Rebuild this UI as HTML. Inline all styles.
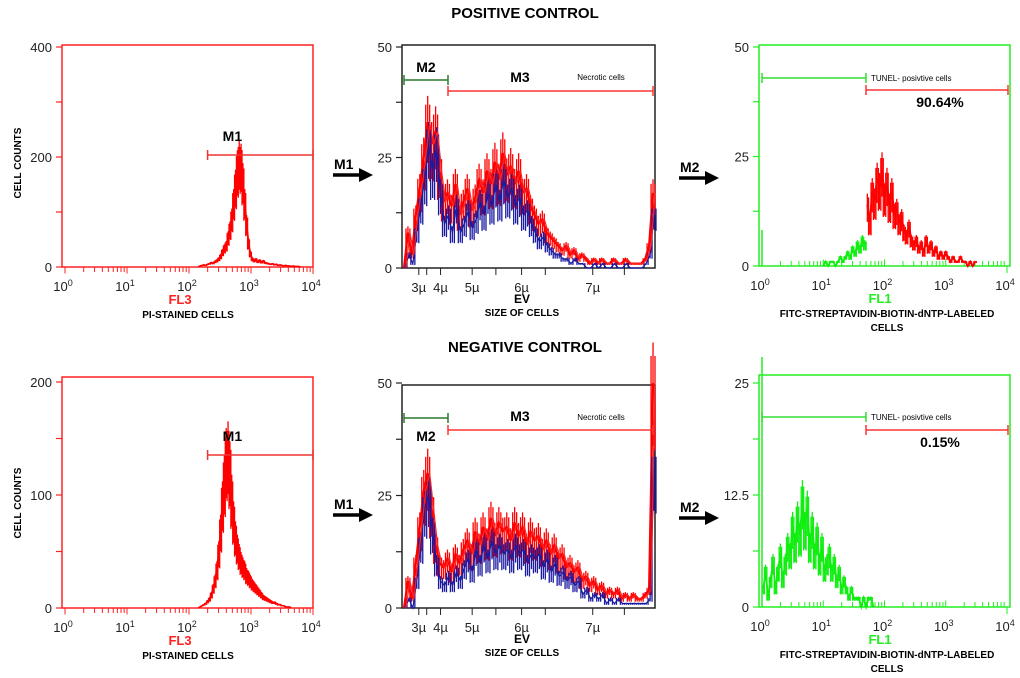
<!DOCTYPE html>
<html><head><meta charset="utf-8">
<style>
html,body{margin:0;padding:0;background:#fff;}
svg{display:block;font-family:"Liberation Sans",Arial,sans-serif;}
</style></head>
<body>
<svg id="fig" width="1020" height="678" viewBox="0 0 1020 678">
<text x="525" y="18" text-anchor="middle" font-size="15" font-weight="bold">POSITIVE CONTROL</text>
<text x="525" y="352" text-anchor="middle" font-size="15" font-weight="bold">NEGATIVE CONTROL</text>
</svg>
<script>
// ---- data ----
// Panel 1 (FL3, log10 bins, start 2.15 step 0.03)
const pcFl3Counts=[0,2,3,4,3,5,6,8,7,10,12,15,20,28,35,40,55,70,90,120,150,180,195,190,160,120,80,45,25,15,12,14,10,12,9,11,8,7,6,5,6,4,5,3,4,3,2,3,2,2,1,2,1,1,1,0];
const ncFl3Counts=[0,1,2,3,4,6,8,12,18,25,35,50,70,95,115,135,140,125,100,80,65,55,48,42,38,35,30,28,25,22,20,18,16,14,12,10,9,8,7,6,5,5,4,3,3,2,2,1,1,1,0];
// Panel 2 (size channel, bins of 4 channels)
const pcSizeRed=[0,8,3,12,18,25,33,28,31,22,15,17,14,19,12,15,18,13,16,20,17,22,19,24,20,26,21,23,19,22,17,18,14,12,10,11,8,7,6,5,4,5,3,4,2,3,2,1,2,1,2,1,1,2,1,1,2,1,1,1,1,2,5,17];
const pcSizeBlue=[0,3,1,8,14,20,28,22,27,17,10,12,8,14,8,10,13,9,11,15,12,17,14,19,15,20,16,18,14,16,12,13,10,8,6,7,5,4,3,3,2,2,1,2,1,1,0,0,1,0,1,0,0,1,0,0,1,0,0,0,0,1,3,12];
const ncSizeRed=[0,6,2,10,18,26,30,22,14,10,9,11,8,12,10,13,15,12,17,14,18,15,20,16,19,17,18,15,19,16,18,14,17,15,16,13,15,12,14,11,12,9,10,8,9,6,7,5,6,4,5,3,4,3,4,2,3,2,3,2,2,3,4,50];
const ncSizeBlue=[0,2,0,6,14,22,25,17,10,6,5,7,5,8,6,9,11,8,13,10,14,11,15,12,14,12,13,11,14,12,13,10,12,11,12,9,11,8,10,7,8,6,7,5,6,3,4,2,3,2,3,1,2,1,2,1,1,1,1,1,1,1,2,30];
const sizeTickLabels=["3µ","4µ","5µ","6µ","7µ"];
const sizeTickChannels=[17,39,71,121,193];
// Panel 3 (FL1, log bins step 0.04)
const pcFl1Green=[0,1,0,1,1,0,1,2,1,2,3,2,4,3,5,4,6,5];           // start 1.0
const pcFl1Red=[14,10,17,15,20,18,22,16,19,14,17,12,13,10,11,8,7,9,6,5,6,4,5,3,6,4,5,3,4,2,3,2,3,2,1,2,1,1,2,1,1,0,1,0,1]; // start 1.72
const ncFl1Green=[2,4,1,3,5,2,4,6,3,5,7,6,9,7,10,8,12,9,11,7,9,6,8,5,7,4,5,6,4,5,3,4,2,3,2,1,2,1,1,1,0,1,0,1,1,0]; // start 0.02
const logTickLabels=["0","1","2","3","4"];

const S="http://www.w3.org/2000/svg";
const svg=document.getElementById('fig');
function el(tag,attrs,parent){const e=document.createElementNS(S,tag);for(const k in attrs)e.setAttribute(k,attrs[k]);(parent||svg).appendChild(e);return e;}
function txt(x,y,s,attrs,parent){const t=el('text',Object.assign({x:x,y:y},attrs),parent);t.textContent=s;return t;}

function panel(cfg){
  const g=el('g',{});
  
  
  const X=v=>cfg.x0+(v-cfg.xmin)/(cfg.xmax-cfg.xmin)*(cfg.x1-cfg.x0);
  const Y=v=>cfg.y0-(v/cfg.ymax)*(cfg.y0-cfg.yTop);
  cfg.X=X;cfg.Y=Y;
  const fr=el('rect',{x:cfg.fx,y:cfg.fy,width:cfg.x1r-cfg.fx,height:cfg.y0-cfg.fy,fill:'none',stroke:cfg.frame,'stroke-width':1.5},g);
  
  
  cfg.yTicks.forEach((v,i)=>{
    el('line',{x1:cfg.fx-6,x2:cfg.fx,y1:Y(v),y2:Y(v),stroke:cfg.frame,'stroke-width':1.2},g);
    if(cfg.yLabels[i]!==''){const t=txt(cfg.fx-10,Y(v)+5,cfg.yLabels[i],{'text-anchor':'end','font-size':13,fill:'#222'},g);
      
      }
  });
  return g;
}
function logAxis(g,cfg,col,up){
  for(let d=0;d<4;d++){for(let m=1;m<=9;m++){const v=d+Math.log10(m);const x=cfg.X(v);
    el('line',{x1:x,x2:x,y1:cfg.y0,y2:cfg.y0+(up?-5:5)*(m===1?1.3:1),stroke:col,'stroke-width':1},g);}}
  el('line',{x1:cfg.X(4),x2:cfg.X(4),y1:cfg.y0,y2:cfg.y0+7,stroke:col},g);
  logTickLabels.forEach((s,i)=>{const t=el('text',{x:cfg.X(i)-2,y:cfg.y0+24,'text-anchor':'middle','font-size':13,fill:'#222'},g);
    
    
    t.innerHTML='10<tspan dy="-5" font-size="9">'+s+'</tspan>';});
}
function hist(g,cfg,vals,start,step,col,w,name,noisy){
  let pts=[];
  vals.forEach((v,i)=>{const x=cfg.X(start+i*step);pts.push(x+','+cfg.Y(v));});
  const p=el('polyline',{points:pts.join(' '),fill:'none',stroke:col,'stroke-width':w,'stroke-linejoin':'miter'},g);
  
  
  if(noisy){
    vals.forEach((v,i)=>{
      const x=cfg.X(start+i*step);
      const x2=cfg.X(start+(i+0.5)*step);
      el('line',{x1:x,x2:x,y1:cfg.Y(v*0.72),y2:cfg.Y(v*1.18),stroke:col,'stroke-width':1.3},g);
      const n=vals[Math.min(i+1,vals.length-1)];
      el('line',{x1:x2,x2:x2,y1:cfg.Y(Math.min(v,n)*0.7),y2:cfg.Y(Math.max(v,n)*1.12),stroke:col,'stroke-width':1.3},g);
    });
  }
}
function gate(g,x1,x2,y,col,tick){
  el('line',{x1:x1,x2:x2,y1:y,y2:y,stroke:col,'stroke-width':1.5},g);
  el('line',{x1:x1,x2:x1,y1:y-(tick||5),y2:y+5,stroke:col,'stroke-width':1.5},g);
  el('line',{x1:x2,x2:x2,y1:y-(tick||5),y2:y+5,stroke:col,'stroke-width':1.5},g);
}
function arrow(x,y,label){
  const g=el('g',{});
  
  
  txt(x+1,y-6,label,{'font-size':14,'font-weight':'bold'},g);
  el('line',{x1:x,x2:x+28,y1:y,y2:y,stroke:'#000','stroke-width':3.5},g);
  el('polygon',{points:(x+26)+','+(y-7)+' '+(x+40)+','+y+' '+(x+26)+','+(y+7),fill:'#000'},g);
}
function xlab(g,x,y,s,attrs,name){const t=txt(x,y,s,Object.assign({'text-anchor':'middle'},attrs),g);return t;}

[0,1].forEach(row=>{
  const dy=row?340:0;
  // ---- Panel 1 ----
  const c1={name:row?'neg-fl3-histogram':'pos-fl3-histogram',x0:65,x1:313,xmin:0,xmax:4,fx:62,x1r:313,fy:45+dy-(row?8:0),
    y0:267+dy+(row?1:0),yTop:47+dy+(row?-5:0),ymax:row?200:400,frame:'#f22',
    yTicks:row?[0,50,100,150,200]:[0,100,200,300,400],yLabels:row?['0','','100','','200']:['0','','200','','400']};
  const g1=panel(c1);
  logAxis(g1,c1,'#f22',false);
  hist(g1,c1,row?ncFl3Counts:pcFl3Counts,2.15,0.03,'#f00',1.6,'fl3-histogram-line',true);
  gate(g1,c1.X(2.3),c1.X(4),row?455:155,'#e33');
  xlab(g1,c1.X(2.7),row?441:141,'M1',{'font-size':14,'font-weight':'bold'},'m1-gate-label');
  xlab(g1,180,c1.y0+37,'FL3',{'font-size':13,'font-weight':'bold',fill:'#f22'},'fl3-axis-label');
  xlab(g1,188,c1.y0+51,'PI-STAINED CELLS',{'font-size':10,'font-weight':'bold'},'x-axis-title');
  const yl=txt(0,0,'CELL COUNTS',{'font-size':10,'font-weight':'bold','text-anchor':'middle',transform:'translate(21,'+(163+dy)+') rotate(-90)'},g1);
  
  
  // ---- Panel 2 ----
  const c2={name:row?'neg-size-histogram':'pos-size-histogram',x0:402,x1:655,xmin:0,xmax:256,fx:402,x1r:655,fy:45+dy,
    y0:268+dy,yTop:47+dy+(row?-4:0),ymax:50,frame:'#222',yTicks:[0,12.5,25,37.5,50],yLabels:['0','','25','','50']};
  const g2=panel(c2);
  [17,25,39,71,95,121,145,193,225].forEach(ch=>el('line',{x1:c2.X(ch),x2:c2.X(ch),y1:c2.y0,y2:c2.y0+7,stroke:'#222'},g2));
  sizeTickLabels.forEach((s,i)=>{xlab(g2,c2.X(sizeTickChannels[i]),c2.y0+24,s,{'font-size':13,fill:'#222'},'size-tick-label');});
  hist(g2,c2,row?ncSizeRed:pcSizeRed,2,4,'#f00',2.2,'size-histogram-red',true);
  hist(g2,c2,row?ncSizeBlue:pcSizeBlue,3,4,'#1a1aa0',1.2,'size-histogram-blue',true);
  hist(g2,c2,row?ncSizeRed:pcSizeRed,4,4,'#f22',1.2,'size-histogram-red-overlay');
  const gy=row?418:80, ry=row?430:91;
  gate(g2,404,448,gy,'#2a7a2a',0);
  gate(g2,448,653,ry,'#f33',0);
  xlab(g2,426,row?441:72,'M2',{'font-size':14,'font-weight':'bold'},'m2-gate-label');
  xlab(g2,520,row?421:82,'M3',{'font-size':14,'font-weight':'bold'},'m3-gate-label');
  xlab(g2,601,row?420:80,'Necrotic cells',{'font-size':8},'necrotic-cells-label');
  xlab(g2,522,c2.y0+35,'EV',{'font-size':12,'font-weight':'bold'},'ev-axis-label');
  xlab(g2,522,c2.y0+48,'SIZE OF CELLS',{'font-size':10,'font-weight':'bold'},'x-axis-title');
  // ---- Panel 3 ----
  const c3={name:row?'neg-fl1-histogram':'pos-fl1-histogram',x0:762,x1:1007,xmin:0,xmax:4,fx:759,x1r:1010,fy:45+dy+(row?-10:0),
    y0:266+dy+(row?1:0),yTop:47+dy+(row?-4:0),ymax:row?25:50,frame:'#2e2',
    yTicks:row?[0,6.25,12.5,18.75,25]:[0,12.5,25,37.5,50],yLabels:row?['0','','12.5','','25']:['0','','25','','50']};
  const g3=panel(c3);
  logAxis(g3,c3,'#2e2',true);
  if(row){
    el('line',{x1:762,x2:762,y1:357,y2:607,stroke:'#2e2','stroke-width':1.5},g3);
    hist(g3,c3,ncFl1Green,0.02,0.04,'#1e1',1.8,'fl1-histogram-green',true);
  }else{
    el('line',{x1:762,x2:762,y1:230,y2:266,stroke:'#2e2','stroke-width':1.5},g3);
    hist(g3,c3,pcFl1Green,1.0,0.04,'#1e1',1.8,'fl1-histogram-green',true);
    hist(g3,c3,pcFl1Red,1.72,0.04,'#f00',2,'fl1-histogram-red',true);
  }
  const gy3=row?417:78, ry3=row?430:90;
  gate(g3,762,866,gy3,'#3d3');
  gate(g3,866,1008,ry3,'#f33');
  txt(871,gy3+3,'TUNEL- posivtive cells',{'font-size':8},g3);
  xlab(g3,940,ry3+17,row?'0.15%':'90.64%',{'font-size':14,'font-weight':'bold'},'tunel-percentage');
  xlab(g3,880,c3.y0+37,'FL1',{'font-size':13,'font-weight':'bold',fill:'#2e2'},'fl1-axis-label');
  xlab(g3,887,c3.y0+51,'FITC-STREPTAVIDIN-BIOTIN-dNTP-LABELED',{'font-size':10,'font-weight':'bold'},'x-axis-title');
  xlab(g3,887,c3.y0+65,'CELLS',{'font-size':10,'font-weight':'bold'},'x-axis-title-line2');
  arrow(333,175+dy,'M1');
  arrow(679,178+dy,'M2');
});
</script>
</body></html>
